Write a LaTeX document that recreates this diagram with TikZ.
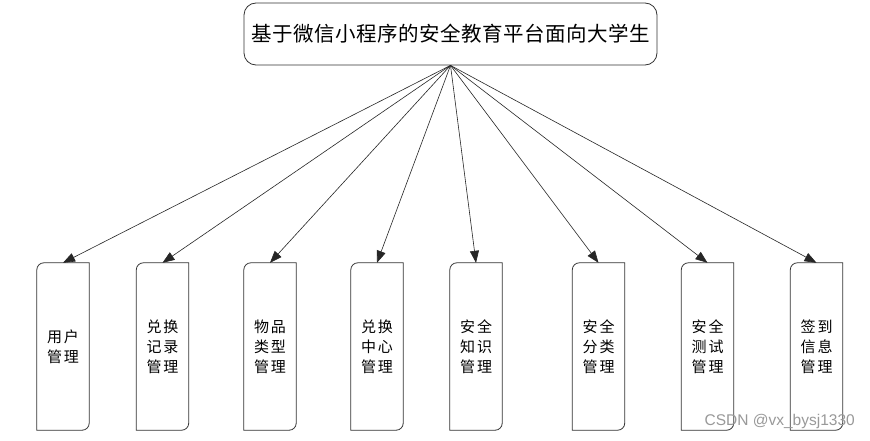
\documentclass[tikz,border=0pt]{standalone}
\usepackage{fontspec}
\setmainfont{Liberation Sans}
\newfontfamily\cjk{Noto Sans CJK SC}
\usetikzlibrary{arrows.meta}
\newcommand\gp{\hspace{2pt}}
\tikzset{
  titlebox/.style={draw=black!80, line width=0.8pt, rounded corners=12pt, minimum width=413pt, minimum height=62pt, inner sep=0pt, font=\cjk\fontsize{20.5}{24}\selectfont},
  modbox/.style={draw=none, minimum width=52pt, minimum height=167pt, inner sep=0pt, align=center, font=\cjk\fontsize{15}{20}\selectfont},
  conn/.style={draw=black!85, line width=0.6pt, -{Triangle[length=12pt,width=9pt]}},
  outline/.style={draw=black!80, line width=0.8pt}
}
\newcommand\modoutline[1]{%
  \draw[outline] (#1.south west) -- ([yshift=-7pt]#1.north west) arc[start angle=180,end angle=90,radius=7pt] -- (#1.north east) -- ([yshift=7pt]#1.south east) arc[start angle=0,end angle=-90,radius=7pt] -- cycle;}
\begin{document}
\begin{tikzpicture}
\useasboundingbox (0,0) rectangle (870pt,440pt);
\fill[white] (0,0) rectangle (870pt,440pt);
\node[titlebox] (t) at (450.5pt,406pt) {基\hspace{0.5pt}于\hspace{0.5pt}微\hspace{0.5pt}信\hspace{0.5pt}小\hspace{0.5pt}程\hspace{0.5pt}序\hspace{0.5pt}的\hspace{0.5pt}安\hspace{0.5pt}全\hspace{0.5pt}教\hspace{0.5pt}育\hspace{0.5pt}平\hspace{0.5pt}台\hspace{0.5pt}面\hspace{0.5pt}向\hspace{0.5pt}大\hspace{0.5pt}学\hspace{0.5pt}生};
\node[modbox] (m1) at (63pt,93.5pt) {用\gp 户\\管\gp 理};
\node[modbox] (m2) at (162.5pt,93.5pt) {兑\gp 换\\记\gp 录\\管\gp 理};
\node[modbox] (m3) at (270pt,93.5pt) {物\gp 品\\类\gp 型\\管\gp 理};
\node[modbox] (m4) at (377pt,93.5pt) {兑\gp 换\\中\gp 心\\管\gp 理};
\node[modbox] (m5) at (476pt,93.5pt) {安\gp 全\\知\gp 识\\管\gp 理};
\node[modbox] (m6) at (598.5pt,93.5pt) {安\gp 全\\分\gp 类\\管\gp 理};
\node[modbox] (m7) at (707.5pt,93.5pt) {安\gp 全\\测\gp 试\\管\gp 理};
\node[modbox] (m8) at (816.5pt,93.5pt) {签\gp 到\\信\gp 息\\管\gp 理};
\foreach \i in {1,...,8} {
  \modoutline{m\i}
  \draw[conn] (t.south) -- (m\i.north);
}
\node[text=black!40, font=\fontsize{15.5}{18}\selectfont, anchor=east, inner sep=0pt] (wm) at (855pt,19pt) {CSDN @vx\_bysj1330};
\end{tikzpicture}
\end{document}
